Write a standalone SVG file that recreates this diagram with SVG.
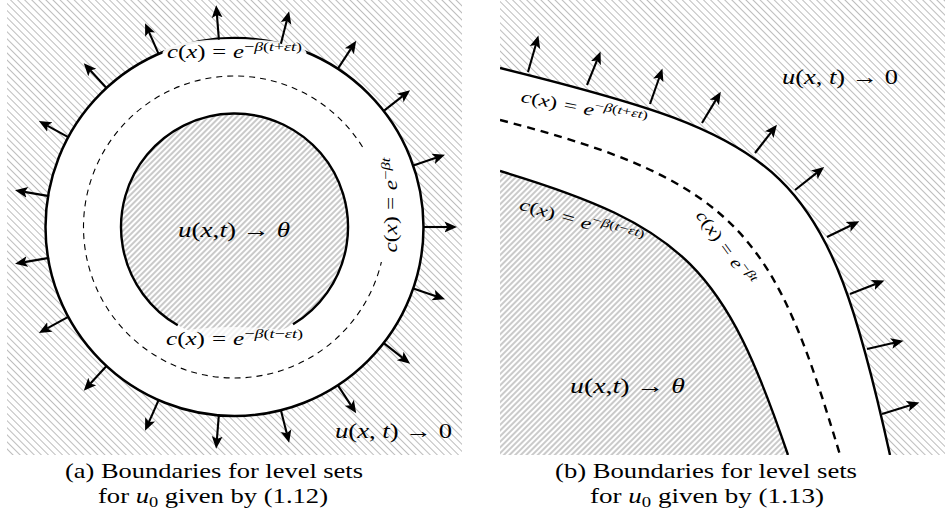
<svg xmlns="http://www.w3.org/2000/svg" width="946" height="518" viewBox="0 0 946 518">
<style>
.t{font-family:"Liberation Serif","Times New Roman",serif;fill:#000}
.i{font-style:italic}
.bd{fill:none;stroke:#000;stroke-width:2.4}
.ar{stroke:#000;stroke-width:2.1;fill:none;marker-end:url(#ah)}
</style>
<defs>
<pattern id="hOut" patternUnits="userSpaceOnUse" width="5" height="5" patternTransform="rotate(-45)">
<rect width="5" height="5" fill="#fff"/>
<line x1="2.5" y1="0" x2="2.5" y2="5" stroke="#bdbdbd" stroke-width="1"/>
</pattern>
<pattern id="hIn" patternUnits="userSpaceOnUse" width="4" height="4" patternTransform="rotate(45)">
<rect width="4" height="4" fill="#fff"/>
<line x1="2" y1="0" x2="2" y2="4" stroke="#969696" stroke-width="1"/>
</pattern>
<marker id="ah" markerUnits="userSpaceOnUse" markerWidth="16" markerHeight="14" viewBox="0 -7 16 14" refX="3" refY="0" orient="auto">
<path d="M0,-5.4 L12.5,0 L0,5.4 L2.8,0 Z" fill="#000"/>
</marker>
<clipPath id="ca"><rect x="7" y="0" width="455" height="455"/></clipPath>
<clipPath id="cb"><rect x="500" y="0" width="445" height="455"/></clipPath>
</defs>
<rect width="946" height="518" fill="#fff"/>

<g id="panel-a" clip-path="url(#ca)">
<rect x="7" y="0" width="455" height="455" fill="url(#hOut)"/>
<circle cx="234.5" cy="227" r="189" fill="#fff" stroke="#000" stroke-width="2.5"/>
<circle cx="234.5" cy="227" r="113.5" fill="url(#hIn)"/>
<path class="bd" d="M177.75,325.3 A113.5,113.5 0 1 1 293,324.3" stroke-width="2.5"/>
<circle cx="234.5" cy="227" r="151" fill="none" stroke="#000" stroke-width="1.1" stroke-dasharray="6 5"/>
<ellipse id="bg-top-a" cx="234.5" cy="53" rx="72" ry="14" fill="#fff" opacity="0.95"/>
<ellipse id="bg-bot-a" cx="234.5" cy="339" rx="72" ry="12" fill="#fff" opacity="0.75"/>
<rect id="bg-right-a" x="363" y="150" width="38" height="112" fill="#fff"/>
</g>

<g id="panel-b" clip-path="url(#cb)">
<rect x="500" y="0" width="445" height="455" fill="url(#hOut)"/>
<path d="M500,68 C790,139.6 826,165 890,455 L500,455 Z" fill="#fff"/>
<path d="M500,171 C686,226.8 724.8,269 788,455 L500,455 Z" fill="url(#hIn)"/>
<path class="bd" d="M500,68 C790,139.6 826,165 890,455"/>
<path class="bd" d="M500,171 C686,226.8 724.8,269 788,455"/>
<path d="M500,120 C743.4,182.3 775.3,239.3 840,455" fill="none" stroke="#000" stroke-width="2.4" stroke-dasharray="8 6"/>
</g>

<g id="connectors">
<line class="ar" x1="423.5" y1="227" x2="447.5" y2="227"/>
<line class="ar" x1="413.3" y1="288.4" x2="436.0" y2="296.2"/>
<line class="ar" x1="383.8" y1="343.2" x2="402.6" y2="357.8"/>
<line class="ar" x1="337.9" y1="385.3" x2="351.0" y2="405.3"/>
<line class="ar" x1="280.9" y1="410.3" x2="286.8" y2="433.5"/>
<line class="ar" x1="218.9" y1="414.4" x2="216.9" y2="439.3"/>
<line class="ar" x1="158.6" y1="400.1" x2="148.9" y2="422.1"/>
<line class="ar" x1="106.5" y1="366.0" x2="90.2" y2="383.7"/>
<line class="ar" x1="68.2" y1="316.9" x2="47.2" y2="328.4"/>
<line class="ar" x1="49.1" y1="257.9" x2="24.4" y2="262.1"/>
<line class="ar" x1="49.1" y1="196.1" x2="24.4" y2="191.9"/>
<line class="ar" x1="68.2" y1="137.1" x2="47.2" y2="125.6"/>
<line class="ar" x1="106.5" y1="88.0" x2="90.2" y2="70.3"/>
<line class="ar" x1="158.6" y1="53.9" x2="148.9" y2="31.9"/>
<line class="ar" x1="218.9" y1="39.6" x2="216.9" y2="14.7"/>
<line class="ar" x1="280.9" y1="43.7" x2="286.8" y2="20.5"/>
<line class="ar" x1="337.9" y1="68.7" x2="351.0" y2="48.7"/>
<line class="ar" x1="383.8" y1="110.8" x2="402.6" y2="96.2"/>
<line class="ar" x1="413.3" y1="165.6" x2="436.0" y2="157.8"/>

<line class="ar" x1="528" y1="72" x2="535.8" y2="44.7"/>
<line class="ar" x1="587" y1="85" x2="597" y2="60.4"/>
<line class="ar" x1="650" y1="104" x2="659.3" y2="77.5"/>
<line class="ar" x1="702" y1="123" x2="715.9" y2="99.9"/>
<line class="ar" x1="755" y1="153" x2="771.1" y2="132.3"/>
<line class="ar" x1="795" y1="190" x2="816.7" y2="172.9"/>
<line class="ar" x1="827" y1="237" x2="850.8" y2="225.5"/>
<line class="ar" x1="850" y1="294" x2="875.6" y2="283.9"/>
<line class="ar" x1="867" y1="349" x2="894.2" y2="342.8"/>
<line class="ar" x1="882" y1="414" x2="910.3" y2="405.3"/>
</g>

<g id="labels-a">
<text id="la-top" class="t" x="234.5" y="58" text-anchor="middle" font-size="18" textLength="135" lengthAdjust="spacingAndGlyphs"><tspan class="i">c</tspan>(<tspan class="i">x</tspan>)<tspan dx="5">=</tspan><tspan class="i" dx="5">e</tspan><tspan font-size="13" dy="-7.5">−<tspan class="i">β</tspan>(<tspan class="i">t</tspan>+<tspan class="i">εt</tspan>)</tspan></text>
<text id="la-bot" class="t" x="234.5" y="345" text-anchor="middle" font-size="18" textLength="137" lengthAdjust="spacingAndGlyphs"><tspan class="i">c</tspan>(<tspan class="i">x</tspan>)<tspan dx="5">=</tspan><tspan class="i" dx="5">e</tspan><tspan font-size="13" dy="-7.5">−<tspan class="i">β</tspan>(<tspan class="i">t</tspan>−<tspan class="i">εt</tspan>)</tspan></text>
<text id="la-right" class="t" transform="translate(397,205) rotate(-90)" text-anchor="middle" font-size="18" textLength="95" lengthAdjust="spacingAndGlyphs"><tspan class="i">c</tspan>(<tspan class="i">x</tspan>)<tspan dx="5">=</tspan><tspan class="i" dx="5">e</tspan><tspan font-size="13" dy="-7.5">−<tspan class="i">βt</tspan></tspan></text>
<text id="la-center" class="t" x="234" y="237" text-anchor="middle" font-size="21" textLength="112" lengthAdjust="spacingAndGlyphs"><tspan class="i">u</tspan>(<tspan class="i">x</tspan>,<tspan class="i">t</tspan>) → <tspan class="i">θ</tspan></text>
<text id="la-out" class="t" x="393.5" y="438" text-anchor="middle" font-size="22" textLength="117" lengthAdjust="spacingAndGlyphs"><tspan class="i">u</tspan>(<tspan class="i">x</tspan>, <tspan class="i">t</tspan>) → 0</text>
</g>

<g id="labels-b">
<text id="lb-out" class="t" x="840" y="84" text-anchor="middle" font-size="22" textLength="116" lengthAdjust="spacingAndGlyphs"><tspan class="i">u</tspan>(<tspan class="i">x</tspan>, <tspan class="i">t</tspan>) → 0</text>
<text id="lb-in" class="t" x="627.5" y="393" text-anchor="middle" font-size="21" textLength="115" lengthAdjust="spacingAndGlyphs"><tspan class="i">u</tspan>(<tspan class="i">x</tspan>,<tspan class="i">t</tspan>) → <tspan class="i">θ</tspan></text>
<text id="lb-top" class="t" transform="translate(583,114) rotate(11)" text-anchor="middle" font-size="17" textLength="128" lengthAdjust="spacingAndGlyphs"><tspan class="i">c</tspan>(<tspan class="i">x</tspan>)<tspan dx="5">=</tspan><tspan class="i" dx="5">e</tspan><tspan font-size="12" dy="-7">−<tspan class="i">β</tspan>(<tspan class="i">t</tspan>+<tspan class="i">εt</tspan>)</tspan></text>
<text id="lb-bot" class="t" transform="translate(580,227) rotate(16)" text-anchor="middle" font-size="17" textLength="128" lengthAdjust="spacingAndGlyphs"><tspan class="i">c</tspan>(<tspan class="i">x</tspan>)<tspan dx="5">=</tspan><tspan class="i" dx="5">e</tspan><tspan font-size="12" dy="-7">−<tspan class="i">β</tspan>(<tspan class="i">t</tspan>−<tspan class="i">εt</tspan>)</tspan></text>
<text id="lb-mid" class="t" transform="translate(721,251) rotate(54)" text-anchor="middle" font-size="17" textLength="88" lengthAdjust="spacingAndGlyphs"><tspan class="i">c</tspan>(<tspan class="i">x</tspan>)<tspan dx="5">=</tspan><tspan class="i" dx="5">e</tspan><tspan font-size="12" dy="-7">−<tspan class="i">βt</tspan></tspan></text>
</g>

<g id="captions">
<text class="t" x="214" y="478" text-anchor="middle" font-size="21" textLength="298" lengthAdjust="spacingAndGlyphs">(a) Boundaries for level sets</text>
<text class="t" x="213" y="503" text-anchor="middle" font-size="21" textLength="230" lengthAdjust="spacingAndGlyphs">for <tspan class="i">u</tspan><tspan font-size="14.5" dy="4">0</tspan><tspan dy="-4"> given by (1.12)</tspan></text>
<text class="t" x="706" y="478" text-anchor="middle" font-size="21" textLength="302" lengthAdjust="spacingAndGlyphs">(b) Boundaries for level sets</text>
<text class="t" x="707" y="503" text-anchor="middle" font-size="21" textLength="234" lengthAdjust="spacingAndGlyphs">for <tspan class="i">u</tspan><tspan font-size="14.5" dy="4">0</tspan><tspan dy="-4"> given by (1.13)</tspan></text>
</g>
</svg>
